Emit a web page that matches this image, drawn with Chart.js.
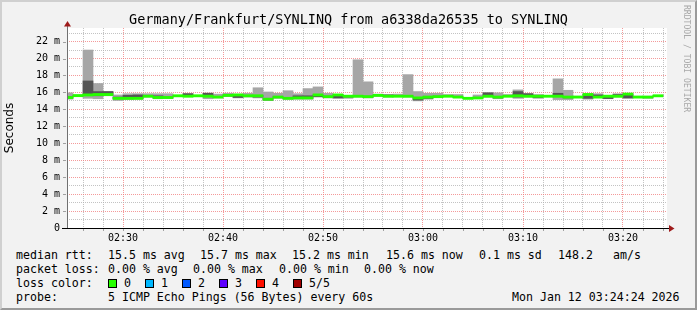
<!DOCTYPE html>
<html>
<head>
<meta charset="utf-8">
<title>SmokePing SYNLINQ</title>
<script src="https://cdn.jsdelivr.net/npm/chart.js@4.4.1/dist/chart.umd.min.js"></script>
<style>
  html, body { margin: 0; padding: 0; }
  body { width: 697px; height: 310px; background: #f2f2f2; position: relative; overflow: hidden;
         font-family: 'DejaVu Sans Mono', monospace; color: #000; }
  #chart { position: absolute; left: 0; top: 0; }
  #frame { position: absolute; left: 0; top: 0; width: 697px; height: 310px; box-sizing: border-box;
           border-left: 2px solid #d0d0d0; border-top: 2px solid #d0d0d0;
           border-right: 2px solid #9a9a9a; border-bottom: 2px solid #9a9a9a; pointer-events: none; }
  #title { position: absolute; left: 0; width: 697px; top: 11px; text-align: center; font-size: 13.5px; line-height: 16px; white-space: pre; }
  #credit { position: absolute; left: 682px; top: 5px; writing-mode: vertical-rl; font-size: 8.1px; line-height: 10px; color: #a8a8a8; white-space: pre; }
  .t { position: absolute; font-size: 11.6px; line-height: 14px; white-space: pre; }
  .box { position: absolute; width: 7px; height: 7px; border: 1px solid #000; }
</style>
</head>
<body>
<canvas id="chart" width="697" height="245"></canvas>
<div id="title">Germany/Frankfurt/SYNLINQ from a6338da26535 to SYNLINQ</div>
<div id="credit">RRDTOOL / TOBI OETIKER</div>
<div id="legend"></div>
<div id="frame"></div>
<script>
// one slot per minute, minutes after 02:00 (02:24 .. 03:23)
const minutes = [24,25,26,27,28,29,30,31,32,33,34,35,36,37,38,39,40,41,42,43,44,45,46,47,48,49,50,51,52,53,
                 54,55,56,57,58,59,60,61,62,63,64,65,66,67,68,69,70,71,72,73,74,75,76,77,78,79,80,81,82,83];

// the 5 pings of every round, sorted (ms)
const pingMin  = [15.20,15.55,15.30,15.25,15.60,15.05,15.15,15.20,15.45,15.25,15.30,15.55,15.50,15.55,15.25,15.35,15.50,15.35,15.45,15.35,
                  15.05,15.30,15.20,15.20,15.20,15.45,15.35,15.30,15.30,15.45,15.35,15.55,15.45,15.50,15.45,15.00,15.20,15.45,15.50,15.40,
                  15.25,15.30,15.45,15.25,15.50,15.30,15.45,15.30,15.50,15.15,15.15,15.40,15.20,15.40,15.25,15.45,15.30,15.40,15.30,15.55];
const pingLow  = [15.35,15.58,15.70,15.60,15.70,15.25,15.30,15.30,15.50,15.35,15.35,15.58,15.52,15.58,15.50,15.42,15.60,15.40,15.50,15.45,
                  15.10,15.40,15.25,15.30,15.30,15.50,15.45,15.35,15.45,15.50,15.38,15.60,15.50,15.52,15.50,15.10,15.30,15.48,15.52,15.42,
                  15.27,15.32,15.55,15.35,15.52,15.45,15.50,15.40,15.52,15.55,15.35,15.42,15.30,15.45,15.27,15.55,15.35,15.42,15.40,15.58];
const medianRtt= [15.40,15.62,15.70,15.75,15.75,15.30,15.30,15.30,15.55,15.40,15.40,15.60,15.55,15.60,15.55,15.45,15.65,15.70,15.60,15.60,
                  15.20,15.45,15.30,15.35,15.35,15.70,15.50,15.70,15.55,15.55,15.50,15.65,15.55,15.55,15.55,15.35,15.45,15.50,15.55,15.45,
                  15.30,15.35,15.55,15.45,15.55,15.60,15.55,15.55,15.55,15.55,15.45,15.45,15.75,15.45,15.55,15.55,15.80,15.45,15.45,15.60];
const pingHigh = [15.50,15.66,17.35,16.10,16.10,15.45,15.65,15.70,15.60,15.60,15.45,15.62,15.85,15.62,15.90,15.50,15.70,15.75,15.65,15.65,
                  15.30,15.50,15.40,15.60,15.60,15.72,15.55,15.72,15.60,15.60,15.55,15.70,15.70,15.60,15.60,15.40,15.50,15.55,15.60,15.50,
                  15.33,15.40,15.95,15.50,15.60,16.10,15.85,15.60,15.58,15.90,15.50,15.50,15.80,15.70,15.55,15.75,15.82,15.50,15.50,15.62];
const pingMax  = [15.95,15.70,21.00,17.05,16.12,15.70,15.85,15.85,15.85,15.85,15.85,15.65,15.87,15.65,15.92,15.80,15.90,15.80,15.90,16.55,
                  16.05,15.90,16.20,15.85,16.45,16.65,15.90,15.75,15.65,19.85,17.25,15.80,15.75,15.80,18.10,16.10,15.90,15.90,15.75,15.75,
                  15.36,15.70,15.97,15.95,15.75,16.30,15.87,15.75,15.60,17.60,16.25,15.55,15.82,15.85,15.60,15.85,15.85,15.55,15.55,15.65];
// lost pings per round (all 0 here)
const lostPings = [0,0,0,0,0,0,0,0,0,0,0,0,0,0,0,0,0,0,0,0,0,0,0,0,0,0,0,0,0,0,
                   0,0,0,0,0,0,0,0,0,0,0,0,0,0,0,0,0,0,0,0,0,0,0,0,0,0,0,0,0,0];

const lossLabels = ['0', '1', '2', '3', '4', '5/5'];
const lossColors = ['#26ff00', '#00b8ff', '#0059ff', '#5e00ff', '#ff1000', '#a00000'];

const gridMinutes = [26,28,30,32,34,36,38,40,42,44,46,48,50,52,54,56,58,60,62,64,66,68,70,72,74,76,78,80,82,84];
const xLabelMinutes = [30, 40, 50, 60, 70, 80];
const xLabels = ['02:30', '02:40', '02:50', '03:00', '03:10', '03:20'];
const yTickValues = [0,1,2,3,4,5,6,7,8,9,10,11,12,13,14,15,16,17,18,19,20,21,22,23];
const yLabelValues = [0,2,4,6,8,10,12,14,16,18,20,22];
const yLabels = ['0','2 m','4 m','6 m','8 m','10 m','12 m','14 m','16 m','18 m','20 m','22 m'];

const MEDIAN_HALF = 0.13;   // thickness of the median stroke, in ms

const slot = i => minutes[i] + 0.5;
const lightData  = minutes.map((m, i) => ({ x: slot(i), y: [pingMin[i], pingMax[i]] }));
const darkData   = minutes.map((m, i) => ({ x: slot(i), y: [pingLow[i], pingHigh[i]] }));
const medianData = minutes.map((m, i) => ({ x: slot(i), y: [medianRtt[i] - MEDIAN_HALF, medianRtt[i] + MEDIAN_HALF] }));

const tickFont = { family: "'DejaVu Sans Mono', monospace", size: 10 };
const majorGrid = 'rgba(240,120,120,0.75)';
const minorGrid = 'rgba(175,175,175,0.75)';

// white canvas, axes with arrows (rrdtool look)
const frame = {
  id: 'frame',
  beforeDraw(c) {
    const a = c.chartArea, ctx = c.ctx;
    ctx.save();
    ctx.fillStyle = '#ffffff';
    ctx.fillRect(a.left, a.top, a.right - a.left, a.bottom - a.top);
    ctx.restore();
  },
  afterDraw(c) {
    const a = c.chartArea, ctx = c.ctx, y = c.scales.y, x = c.scales.x;
    ctx.save();
    ctx.lineWidth = 1;
    // small ticks outside the axes
    ctx.strokeStyle = '#a0a0a0';
    yLabelValues.forEach(v => {
      const py = Math.round(y.getPixelForValue(v)) + 0.5;
      ctx.beginPath(); ctx.moveTo(a.left - 4, py); ctx.lineTo(a.left - 1, py); ctx.stroke();
    });
    gridMinutes.forEach(v => {
      const px = Math.round(x.getPixelForValue(v)) + 0.5;
      ctx.beginPath(); ctx.moveTo(px, a.bottom + 1); ctx.lineTo(px, a.bottom + 3); ctx.stroke();
    });
    // y axis
    ctx.strokeStyle = '#707070';
    ctx.beginPath(); ctx.moveTo(a.left + 0.5, a.bottom); ctx.lineTo(a.left + 0.5, a.top - 3); ctx.stroke();
    // x axis
    ctx.strokeStyle = '#000000';
    ctx.beginPath(); ctx.moveTo(a.left - 5, a.bottom + 0.5); ctx.lineTo(a.right + 3, a.bottom + 0.5); ctx.stroke();
    // arrows
    ctx.fillStyle = '#9e1b1b';
    ctx.beginPath(); ctx.moveTo(a.left + 0.5, a.top - 7); ctx.lineTo(a.left - 3, a.top - 1.5); ctx.lineTo(a.left + 4, a.top - 1.5); ctx.closePath(); ctx.fill();
    ctx.beginPath(); ctx.moveTo(a.right + 7.5, a.bottom + 0.5); ctx.lineTo(a.right + 2, a.bottom - 3); ctx.lineTo(a.right + 2, a.bottom + 4); ctx.closePath(); ctx.fill();
    ctx.restore();
  }
};

new Chart(document.getElementById('chart'), {
  type: 'bar',
  data: {
    datasets: [
      { label: 'median', data: medianData, order: 1,
        backgroundColor: minutes.map((m, i) => lossColors[lostPings[i]]) },
      { label: 'inner smoke', data: darkData, order: 2, backgroundColor: '#555555' },
      { label: 'outer smoke', data: lightData, order: 3, backgroundColor: '#a6a6a6' }
    ]
  },
  options: {
    responsive: false,
    animation: false,
    events: [],
    datasets: { bar: { grouped: false, barPercentage: 1, categoryPercentage: 1, borderWidth: 0, borderSkipped: false } },
    layout: { padding: { left: 0, top: 28, right: 30, bottom: 0 } },
    plugins: { legend: { display: false }, tooltip: { enabled: false }, title: { display: false } },
    scales: {
      x: {
        type: 'linear', min: 24.4, max: 84.4, offset: false, stacked: true,
        afterBuildTicks: s => { s.ticks = gridMinutes.map(v => ({ value: v })); },
        afterFit: s => { s.height = 17; },
        grid: { offset: false, drawTicks: false, lineWidth: 1,
                color: ctx => xLabelMinutes.includes(ctx.tick && ctx.tick.value) ? majorGrid : minorGrid },
        border: { display: false, dash: [1, 1] },
        ticks: { autoSkip: false, maxRotation: 0, minRotation: 0, padding: 4, color: '#000', font: tickFont,
                 callback: v => { const i = xLabelMinutes.indexOf(v); return i < 0 ? '' : xLabels[i]; } }
      },
      y: {
        min: 0, max: 23.6, stacked: false,
        afterBuildTicks: s => { s.ticks = yTickValues.map(v => ({ value: v })); },
        afterFit: s => { s.width = 67; },
        grid: { drawTicks: false, lineWidth: 1,
                color: ctx => {
                  const v = ctx.tick && ctx.tick.value;
                  if (v === 0) return 'rgba(0,0,0,0)';
                  return yLabelValues.includes(v) ? majorGrid : minorGrid;
                } },
        border: { display: false, dash: [1, 1] },
        ticks: { autoSkip: false, padding: 7, color: '#000', font: tickFont,
                 callback: v => { const i = yLabelValues.indexOf(v); return i < 0 ? '' : yLabels[i]; } },
        title: { display: true, text: 'Seconds', color: '#000', padding: { top: 3, bottom: 0 },
                 font: { family: "'DejaVu Sans', sans-serif", size: 12 } }
      }
    }
  },
  plugins: [frame]
});

// rrdtool legend below the graph
const legend = document.getElementById('legend');
function text(str, left, top) {
  const d = document.createElement('div'); d.className = 't';
  d.style.left = left + 'px'; d.style.top = top + 'px'; d.textContent = str;
  legend.appendChild(d);
}
const rowTop = [248, 261.5, 275.5, 289.5];
text('median rtt:', 16, rowTop[0]);
text('15.5 ms avg', 108, rowTop[0]);
text('15.7 ms max', 200, rowTop[0]);
text('15.2 ms min', 292, rowTop[0]);
text('15.6 ms now', 386, rowTop[0]);
text('0.1 ms sd', 479, rowTop[0]);
text('148.2', 558, rowTop[0]);
text('am/s', 613, rowTop[0]);

text('packet loss:', 16, rowTop[1]);
text('0.00 % avg', 108, rowTop[1]);
text('0.00 % max', 193, rowTop[1]);
text('0.00 % min', 279, rowTop[1]);
text('0.00 % now', 364, rowTop[1]);

text('loss color:', 16, rowTop[2]);
const boxLeft = [108, 145, 182, 219, 256, 293];
lossLabels.forEach((lab, i) => {
  const b = document.createElement('div'); b.className = 'box';
  b.style.left = boxLeft[i] + 'px'; b.style.top = (rowTop[2] + 3) + 'px'; b.style.background = lossColors[i];
  legend.appendChild(b);
  text(lab, boxLeft[i] + 16, rowTop[2]);
});

text('probe:', 16, rowTop[3]);
text('5 ICMP Echo Pings (56 Bytes) every 60s', 108, rowTop[3]);
text('Mon Jan 12 03:24:24 2026', 512, rowTop[3]);
</script>
</body>
</html>
